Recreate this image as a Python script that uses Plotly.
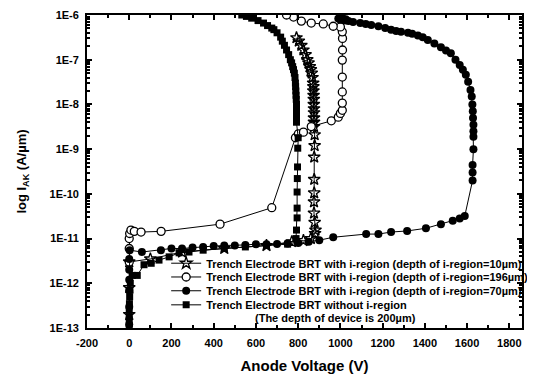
import plotly.graph_objects as go

# ---- data ----
# Trench Electrode BRT with i-region (depth 10 um)  -> stars
star_v = [0, 0, 0, 100, 250, 450, 650, 770, 825, 860, 880,
          882, 878, 875, 875, 876, 876, 876, 878, 878,
          875, 875, 875, 875, 875, 874, 874, 873, 872, 872, 871, 868, 864, 860, 855,
          849, 843, 835, 825, 815, 803, 792]
star_i = [2e-13, 8e-13, 3e-12, 3.5e-12, 5e-12, 6e-12, 7e-12, 8.5e-12, 9e-12, 1.0e-11, 1.3e-11,
          1.55e-11, 2.3e-11, 3.7e-11, 6.6e-11, 1.05e-10, 2.1e-10, 6.6e-10, 1.2e-9, 2.1e-9,
          3.2e-9, 4e-9, 5e-9, 6.5e-9, 8e-9, 1e-8, 1.3e-8, 1.6e-8, 2e-8, 2.5e-8, 3e-8, 4e-8, 5e-8, 6e-8, 7e-8,
          8.5e-8, 1.0e-7, 1.3e-7, 1.65e-7, 2.1e-7, 2.6e-7, 3.1e-7]

# depth 196 um -> open circles
ocirc_v = [0, 0, 0, 2, 8, 24, 56, 151, 430, 675, 787, 801, 825, 862, 957, 990,
           1000, 1009, 1009, 1009, 1009, 1009, 1010, 1010, 1009,
           1000, 966, 919, 862, 815, 778, 745]
ocirc_i = [3e-12, 6e-12, 1.0e-11, 1.3e-11, 1.55e-11, 1.45e-11, 1.4e-11, 1.45e-11, 2.1e-11, 4.9e-11,
           1.8e-9, 2.2e-9, 2.4e-9, 3.2e-9, 4.3e-9, 5.2e-9,
           6.3e-9, 7.4e-9, 1.07e-8, 1.9e-8, 4.1e-8, 9.8e-8, 1.65e-7, 3.0e-7, 4.2e-7,
           5.4e-7, 5.6e-7, 6.3e-7, 6.6e-7, 7.3e-7, 9e-7, 1.0e-6]

# depth 70 um -> filled circles
fcirc_v = [0, 0, 0, 0, 0, 0, 2, 60, 150, 200, 250, 300, 350, 400, 450, 500, 550, 600, 650, 700,
           750, 800, 850, 900, 966, 1122, 1180, 1240, 1316, 1405, 1476, 1532, 1565, 1589,
           1626, 1626, 1626, 1630, 1630, 1630, 1630, 1628, 1627, 1625, 1622, 1616, 1605, 1594,
           1580, 1565, 1545, 1523, 1500, 1476, 1445, 1414, 1390, 1367, 1340, 1320, 1287, 1264,
           1240, 1212, 1180, 1146, 1120, 1094, 1060, 1038, 1020, 1000, 990, 1010, 1025]
fcirc_i = [1.2e-13, 3e-13, 7e-13, 1.2e-12, 2e-12, 3.5e-12, 5.5e-12, 5.0e-12, 5.5e-12, 6e-12, 6e-12,
           6.3e-12, 6.5e-12, 6.8e-12, 7e-12, 7e-12, 7.2e-12, 7.5e-12, 7.5e-12, 7.6e-12,
           7.8e-12, 8e-12, 8.5e-12, 9.2e-12, 1.07e-11, 1.26e-11, 1.26e-11, 1.4e-11, 1.48e-11,
           1.7e-11, 2.1e-11, 2.5e-11, 2.8e-11, 3.2e-11,
           2.0e-10, 3.0e-10, 4.4e-10, 1.0e-9, 1.9e-9, 2.5e-9, 3.5e-9, 5e-9, 7e-9, 1e-8, 1.5e-8,
           2.1e-8, 3.2e-8, 4.6e-8, 6e-8, 7.6e-8, 1.0e-7, 1.4e-7, 1.6e-7, 1.9e-7, 2.3e-7, 2.75e-7,
           3.2e-7, 3.5e-7, 3.8e-7, 4.0e-7, 4.2e-7, 4.4e-7, 4.7e-7, 5.1e-7, 5.6e-7, 6.0e-7, 6.3e-7,
           6.6e-7, 7.0e-7, 7.3e-7, 7.5e-7, 7.8e-7, 8.3e-7, 8.5e-7, 8.0e-7]

# without i-region -> filled squares
sq_v = [0, 0, 0, 0, 1, 2, 3, 5, 15, 38, 70, 104, 141, 189, 236, 283, 350, 450, 550, 650, 750,
        790, 792, 795, 795, 795, 796, 797, 798, 800,
        792, 792, 792, 792, 792, 791, 790, 789, 788, 787, 785, 782, 778, 774, 769, 763, 755,
        745, 735, 725, 717, 700, 685, 675, 655, 636, 610, 580, 555, 533]
sq_i = [1.0e-13, 1.3e-13, 1.8e-13, 2.5e-13, 3.5e-13, 5e-13, 7e-13, 1.0e-12, 1.5e-12, 1.5e-12,
        2.6e-12, 2.8e-12, 3.3e-12, 3.9e-12, 4.8e-12, 5.0e-12, 5.5e-12, 6e-12, 6.5e-12, 7e-12, 7.5e-12,
        1.0e-11, 1.55e-11, 2.9e-11, 4.8e-11, 1.1e-10, 2.2e-10, 4e-10, 1.05e-9, 1.8e-9,
        4e-9, 5e-9, 6.5e-9, 8e-9, 1e-8, 1.3e-8, 1.6e-8, 2e-8, 2.5e-8, 3e-8, 4e-8, 5e-8, 6e-8, 7e-8,
        8.5e-8, 1.0e-7, 1.3e-7, 1.65e-7, 2.1e-7, 2.6e-7, 3.2e-7, 4.0e-7, 4.7e-7, 5.1e-7, 5.8e-7,
        6.6e-7, 7.5e-7, 8.5e-7, 9.3e-7, 1.0e-6]

names = [
    "Trench Electrode BRT with i-region (depth of i-region=10\u00b5m)",
    "Trench Electrode BRT with i-region (depth of i-region=196\u00b5m)",
    "Trench Electrode BRT with i-region (depth of i-region=70\u00b5m)",
    "Trench Electrode BRT without i-region",
]
note = "(The depth of device is 200\u00b5m)"

y_tickvals = [1e-13, 1e-12, 1e-11, 1e-10, 1e-9, 1e-8, 1e-7, 1e-6]
y_ticktext = ["1E-13", "1E-12", "1E-11", "1E-10", "1E-9", "1E-8", "1E-7", "1E-6"]
x_tickvals = [-200, 0, 200, 400, 600, 800, 1000, 1200, 1400, 1600, 1800]
x_ticktext = ["-200", "0", "200", "400", "600", "800", "1000", "1200", "1400", "1600", "1800"]

FONT = "Liberation Sans, Arial, sans-serif"
legend_ids = ["legend", "legend2", "legend3", "legend4"]
legend_rows = [0.207, 0.163, 0.119, 0.074]   # vertical placement of each legend row (paper)

fig = go.Figure()
line = dict(color="black", width=1)
fig.add_trace(go.Scatter(x=star_v, y=star_i, mode="lines+markers", name=names[0], line=line, legend=legend_ids[0],
                         marker=dict(symbol="star-open", size=9, color="black", line=dict(width=1.3, color="black"))))
fig.add_trace(go.Scatter(x=ocirc_v, y=ocirc_i, mode="lines+markers", name=names[1], line=line, legend=legend_ids[1],
                         marker=dict(symbol="circle", size=8, color="white", line=dict(width=1.3, color="black"))))
fig.add_trace(go.Scatter(x=fcirc_v, y=fcirc_i, mode="lines+markers", name=names[2], line=line, legend=legend_ids[2],
                         marker=dict(symbol="circle", size=8, color="black")))
fig.add_trace(go.Scatter(x=sq_v, y=sq_i, mode="lines+markers", name=names[3], line=line, legend=legend_ids[3],
                         marker=dict(symbol="square", size=7, color="black")))

axis_common = dict(showline=True, linecolor="black", linewidth=1.8, mirror="ticks",
                   ticks="inside", tickcolor="black", tickwidth=1.5, ticklen=5,
                   showgrid=False, zeroline=False, automargin=False, ticklabelstandoff=4,
                   tickfont=dict(family=FONT, size=11, color="black", weight="bold"))

fig.update_xaxes(range=[-200, 1860], tickvals=x_tickvals, ticktext=x_ticktext,
                 minor=dict(ticks="inside", dtick=100, tick0=0, ticklen=3, tickcolor="black"),
                 title=dict(text="Anode Voltage (V)", font=dict(family=FONT, size=15, color="black", weight="bold"),
                            standoff=12),
                 **axis_common)
fig.update_yaxes(type="log", range=[-13, -6], tickvals=y_tickvals, ticktext=y_ticktext,
                 minor=dict(ticks="inside", dtick="D1", ticklen=3, tickcolor="black"),
                 title=dict(text="log I<sub>AK</sub> (A/\u00b5m)", font=dict(family=FONT, size=13, color="black", weight="bold"),
                            standoff=20),
                 **axis_common)

legend_style = dict(x=0.182, xanchor="left", yanchor="middle",
                    bgcolor="rgba(0,0,0,0)", borderwidth=0, itemwidth=30,
                    font=dict(family=FONT, size=11, color="black", weight="bold"))
legends = {lid: dict(y=ly, **legend_style) for lid, ly in zip(legend_ids, legend_rows)}

# page body has an 8px default margin, so the figure is slightly smaller
fig.update_layout(
    width=527, height=368,
    margin=dict(l=79, r=13, t=7, b=48, autoexpand=False),
    paper_bgcolor="white", plot_bgcolor="white",
    showlegend=True,
    **legends,
)
fig.add_annotation(text=note, xref="paper", yref="paper", x=0.3816, y=0.031,
                   xanchor="left", yanchor="middle", showarrow=False,
                   font=dict(family=FONT, size=11, color="black", weight="bold"))

fig.write_html("out.html")
